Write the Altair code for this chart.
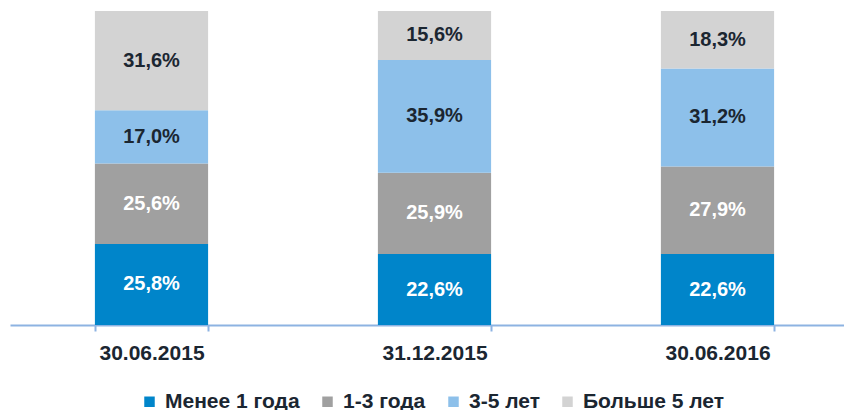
import altair as alt
import pandas as pd

dates = ["30.06.2015", "31.12.2015", "30.06.2016"]
categories = ["Менее 1 года", "1-3 года", "3-5 лет", "Больше 5 лет"]
values = {
    "Менее 1 года": [25.8, 22.6, 22.6],
    "1-3 года": [25.6, 25.9, 27.9],
    "3-5 лет": [17.0, 35.9, 31.2],
    "Больше 5 лет": [31.6, 15.6, 18.3],
}
colors = ["#0085CA", "#A0A0A0", "#8DC0EA", "#D3D3D3"]
text_colors = ["#FFFFFF", "#FFFFFF", "#1B2631", "#1B2631"]

rows = []
for ci, cat in enumerate(categories):
    for di, d in enumerate(dates):
        v = values[cat][di]
        rows.append({
            "date": d, "cat": cat, "order": ci, "value": v,
            "label": f"{v:.1f}%".replace(".", ","),
            "tcolor": text_colors[ci],
        })
df = pd.DataFrame(rows)

FONT = "Liberation Sans"
DARK = "#1B2631"
AXIS = "#8DB3E2"

base = alt.Chart(df).transform_stack(
    stack="value", as_=["y0", "y1"], groupby=["date"],
    sort=[alt.SortField("order", order="ascending")]
).transform_calculate(mid="(datum.y0 + datum.y1) / 2")

xscale = alt.Scale(paddingInner=0.6, paddingOuter=0.3)
xenc = alt.X("date:N", sort=dates, title=None, scale=xscale,
             axis=alt.Axis(labelAngle=0, labelFont=FONT, labelFontSize=21,
                           labelFontWeight="bold", labelColor=DARK,
                           domainColor=AXIS, domainWidth=2, ticks=True,
                           tickColor=AXIS, tickWidth=2, tickSize=6,
                           tickBand="extent", labelPadding=11, grid=False))

bars = base.mark_bar().encode(
    x=xenc,
    y=alt.Y("y0:Q", scale=alt.Scale(domain=[0, 100]), axis=None),
    y2="y1:Q",
    color=alt.Color("cat:N", sort=categories,
                    scale=alt.Scale(domain=categories, range=colors),
                    legend=alt.Legend(title=None, orient="none", direction="horizontal",
                                      legendX=129, legendY=380,
                                      symbolType="square", symbolSize=110,
                                      symbolStrokeWidth=0, symbolOpacity=1,
                                      labelFont=FONT, labelFontSize=21,
                                      labelFontWeight="bold", labelColor=DARK,
                                      labelOffset=5, columnPadding=17, padding=0,
                                      labelLimit=300)),
)

texts = base.mark_text(font=FONT, fontSize=20, fontWeight="bold").encode(
    x=alt.X("date:N", sort=dates, scale=xscale),
    y=alt.Y("mid:Q"),
    text="label:N",
    color=alt.Color("tcolor:N", scale=None),
)

chart = alt.layer(bars, texts).properties(
    width=849, height=314,
    autosize=alt.AutoSizeParams(type="none"),
    padding={"left": 2, "top": 3, "right": -15, "bottom": 85},
).configure_view(stroke=None)

chart.save("out.html", embed_options={"renderer": "svg", "actions": False})
